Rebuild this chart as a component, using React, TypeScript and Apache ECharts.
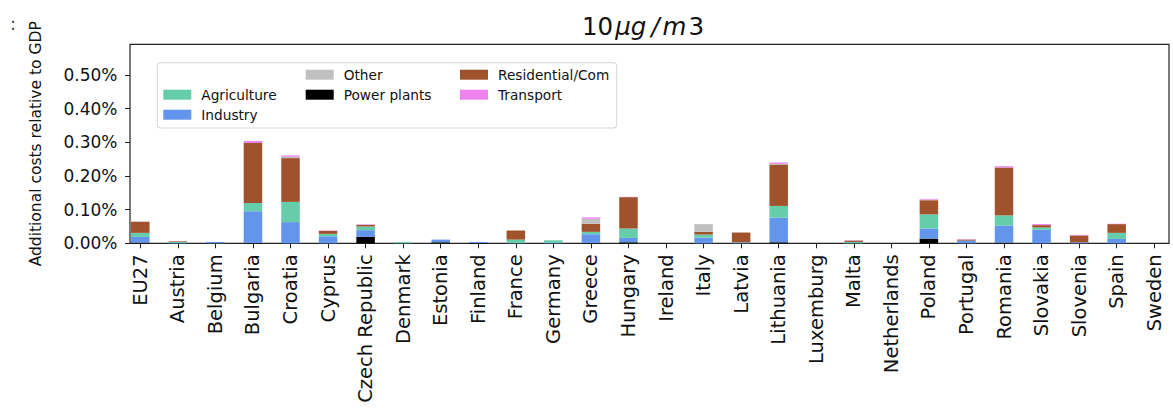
import React, { useEffect, useRef } from "react";
import * as echarts from "echarts";

const countries = [
  "EU27", "Austria", "Belgium", "Bulgaria", "Croatia", "Cyprus", "Czech Republic",
  "Denmark", "Estonia", "Finland", "France", "Germany", "Greece", "Hungary",
  "Ireland", "Italy", "Latvia", "Lithuania", "Luxemburg", "Malta", "Netherlands",
  "Poland", "Portugal", "Romania", "Slovakia", "Slovenia", "Spain", "Sweden",
];

// values in % of GDP
const powerPlants = [0.002, 0, 0, 0.001, 0, 0, 0.019, 0, 0.003, 0.001, 0, 0, 0.001, 0.003, 0, 0, 0, 0.003, 0, 0, 0, 0.014, 0, 0.002, 0, 0, 0, 0];
const industry = [0.017, 0.001, 0.004, 0.094, 0.063, 0.021, 0.02, 0, 0.008, 0.003, 0.001, 0.002, 0.026, 0.013, 0, 0.017, 0.002, 0.073, 0, 0, 0, 0.03, 0.008, 0.051, 0.04, 0.003, 0.013, 0];
const agriculture = [0.012, 0.003, 0, 0.025, 0.06, 0.007, 0.011, 0.003, 0, 0, 0.01, 0.007, 0.007, 0.028, 0, 0.009, 0.001, 0.035, 0, 0.004, 0, 0.042, 0, 0.03, 0.007, 0, 0.018, 0];
const residential = [0.033, 0.002, 0, 0.178, 0.13, 0.009, 0.005, 0, 0, 0, 0.027, 0, 0.024, 0.093, 0, 0.008, 0.029, 0.123, 0, 0.004, 0, 0.042, 0.003, 0.142, 0.007, 0.02, 0.026, 0];
const other = [0.001, 0, 0, 0, 0.004, 0, 0, 0, 0, 0, 0, 0, 0.015, 0, 0, 0.023, 0, 0.002, 0, 0, 0, 0.002, 0, 0, 0, 0, 0, 0];
const transport = [0, 0, 0, 0.006, 0.004, 0.001, 0.001, 0, 0, 0, 0, 0, 0.004, 0.001, 0, 0, 0, 0.004, 0, 0.001, 0, 0.002, 0.001, 0.004, 0.003, 0.002, 0.001, 0];

const yTicks = [0, 0.1, 0.2, 0.3, 0.4, 0.5];
const yMax = 0.591;

const seriesDefs = [
  { name: "Power plants", values: powerPlants, color: "#000000" },
  { name: "Industry", values: industry, color: "#6495ED" },
  { name: "Agriculture", values: agriculture, color: "#66CDAA" },
  { name: "Residential/Com", values: residential, color: "#A0522D" },
  { name: "Other", values: other, color: "#C0C0C0" },
  { name: "Transport", values: transport, color: "#EE82EE" },
];

export default function App() {
  const ref = useRef<HTMLDivElement>(null);

  useEffect(() => {
    if (!ref.current) return;
    const chart = echarts.init(ref.current, null, { renderer: "svg" });
    const F = "DejaVu Sans";
    const plotTop = 44.3;
    const plotH = 199;
    const step = 37.78;
    const firstCenter = 140.4;

    const mkLegend = (name: string, x: number, cy: number) => ({
      data: [name],
      left: x,
      top: cy - 8,
      orient: "horizontal",
      icon: "rect",
      itemWidth: 28,
      itemHeight: 10,
      itemGap: 0,
      padding: 0,
      textStyle: {
        fontFamily: F,
        fontSize: 13.7,
        color: "#111",
        lineHeight: 16,
        padding: [0, 0, 0, 5],
      },
    });

    const tBase = { fontFamily: F, fontSize: 24.5, color: "#111", fontWeight: "normal" };
    const tItal = { ...tBase, fontStyle: "italic" };

    const option: any = {
      animation: false,
      backgroundColor: "#fff",
      title: {
        text: "{n|10}{i|μg}{s|/}{m|m}{n3|3}",
        left: 582,
        top: 14,
        padding: 0,
        textStyle: {
          fontWeight: "normal",
          rich: {
            n: { ...tBase, padding: [0, 2, 0, 0] },
            i: { ...tItal, padding: [0, 2, 0, 0] },
            s: { ...tItal, padding: [0, 3, 0, 3] },
            m: { ...tItal, padding: [0, 2, 0, 0] },
            n3: { ...tBase },
          },
        },
      },
      legend: [
        mkLegend("Agriculture", 163.3, 94.7),
        mkLegend("Industry", 163.3, 114.7),
        mkLegend("Other", 305.7, 74.7),
        mkLegend("Power plants", 305.7, 94.7),
        mkLegend("Residential/Com", 460, 74.7),
        mkLegend("Transport", 460, 94.7),
      ],
      graphic: [
        {
          type: "rect",
          z: 1,
          shape: { x: 157.3, y: 62.7, width: 459.4, height: 65.3, r: 3 },
          style: { fill: "rgba(255,255,255,0.8)", stroke: "#d5d5d5", lineWidth: 1 },
        },
        {
          type: "text",
          x: 10,
          y: 14,
          style: { text: ":", fontSize: 18, fontFamily: F, fill: "#444" },
        },
      ],
      grid: [
        {
          left: firstCenter - step / 2,
          top: plotTop,
          width: step * countries.length,
          height: plotH,
          containLabel: false,
        },
        {
          left: 130,
          top: plotTop,
          width: 1039,
          height: plotH,
          show: true,
          borderColor: "#222",
          borderWidth: 1.2,
          backgroundColor: "transparent",
          containLabel: false,
        },
      ],
      xAxis: [
        {
          type: "category",
          gridIndex: 0,
          data: countries,
          axisLine: { show: false },
          axisTick: { show: true, alignWithLabel: true, length: 5, lineStyle: { color: "#222", width: 1 } },
          axisLabel: {
            interval: 0,
            rotate: 90,
            fontFamily: F,
            fontSize: 19.5,
            color: "#111",
            margin: 11,
          },
          splitLine: { show: false },
        },
        { type: "value", gridIndex: 1, show: false, min: 0, max: 1 },
      ],
      yAxis: [
        { type: "value", gridIndex: 0, min: 0, max: yMax, show: false },
        {
          type: "value",
          gridIndex: 1,
          min: 0,
          max: yMax,
          axisLine: { show: false },
          axisTick: { show: true, customValues: yTicks, length: 5, lineStyle: { color: "#222", width: 1 } },
          axisLabel: {
            customValues: yTicks,
            formatter: (v: number) => v.toFixed(2) + "%",
            fontFamily: F,
            fontSize: 17,
            color: "#111",
            margin: 12.5,
          },
          splitLine: { show: false },
          name: "Additional costs relative to GDP",
          nameLocation: "middle",
          nameRotate: 90,
          nameGap: 86,
          nameTextStyle: { fontFamily: F, fontSize: 15.5, color: "#111" },
        },
      ],
      series: seriesDefs.map((s) => ({
        name: s.name,
        type: "bar",
        stack: "total",
        xAxisIndex: 0,
        yAxisIndex: 0,
        barWidth: 18.5,
        itemStyle: { color: s.color },
        data: s.values,
      })),
    };

    chart.setOption(option);
    return () => chart.dispose();
  }, []);

  return (
    <div
      ref={ref}
      style={{ position: "fixed", left: 0, top: 0, width: 1173, height: 408, background: "#fff" }}
    />
  );
}
